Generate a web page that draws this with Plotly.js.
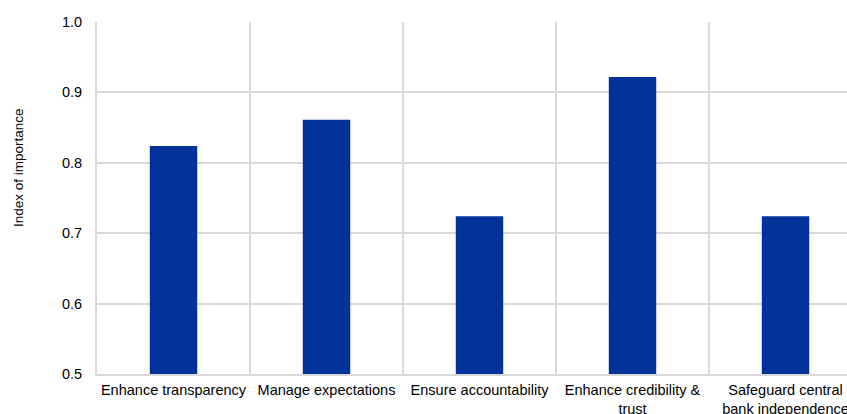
<!DOCTYPE html>
<html>
<head>
<meta charset="utf-8">
<script src="https://cdn.plot.ly/plotly-3.0.1.min.js"></script>
<style>
html,body{margin:0;padding:0;overflow:hidden;background:#fff;}
#chart{width:870px;height:414px;}
</style>
</head>
<body>
<div id="chart"></div>
<script>
const categories = ["Enhance transparency", "Manage expectations", "Ensure accountability", "Enhance credibility &<br>trust", "Safeguard central<br>bank independence"];
const values = [0.824, 0.861, 0.724, 0.922, 0.724];
const yTicks = [0.5, 0.6, 0.7, 0.8, 0.9, 1.0];
const yTickLabels = ["0.5", "0.6", "0.7", "0.8", "0.9", "1.0"];
const yTitle = "Index of importance";

const trace = {
  type: "bar",
  x: categories,
  y: values,
  marker: {color: "#003299"},
  width: 0.31,
  hoverinfo: "skip"
};

const layout = {
  width: 870,
  height: 414,
  margin: {l: 97, r: 8, t: 22, b: 40},
  paper_bgcolor: "#ffffff",
  plot_bgcolor: "#ffffff",
  font: {family: "Liberation Sans, Arial, sans-serif", size: 14, color: "#000000"},
  showlegend: false,
  xaxis: {
    type: "category",
    tickson: "boundaries",
    showgrid: true,
    gridcolor: "#d9d9d9",
    gridwidth: 2,
    showline: true,
    linecolor: "#d9d9d9",
    linewidth: 2,
    ticks: "",
    tickangle: 0,
    ticklabelstandoff: 2,
    tickfont: {size: 14.5},
    automargin: false
  },
  yaxis: {
    range: [0.5, 1.0],
    tickvals: yTicks,
    ticktext: yTickLabels,
    showgrid: true,
    gridcolor: "#d9d9d9",
    gridwidth: 2,
    zeroline: false,
    showline: true,
    linecolor: "#d9d9d9",
    linewidth: 2,
    ticks: "",
    ticklabelstandoff: 10,
    tickfont: {size: 14.5},
    automargin: false
  },
  annotations: [{
    text: yTitle,
    xref: "paper", yref: "paper",
    x: -97/765 + 18/765, y: (374 - 168) / 352,
    xanchor: "center", yanchor: "middle",
    textangle: -90,
    showarrow: false,
    font: {size: 13.5}
  }]
};

Plotly.newPlot("chart", [trace], layout, {staticPlot: true, displayModeBar: false});
</script>
</body>
</html>
